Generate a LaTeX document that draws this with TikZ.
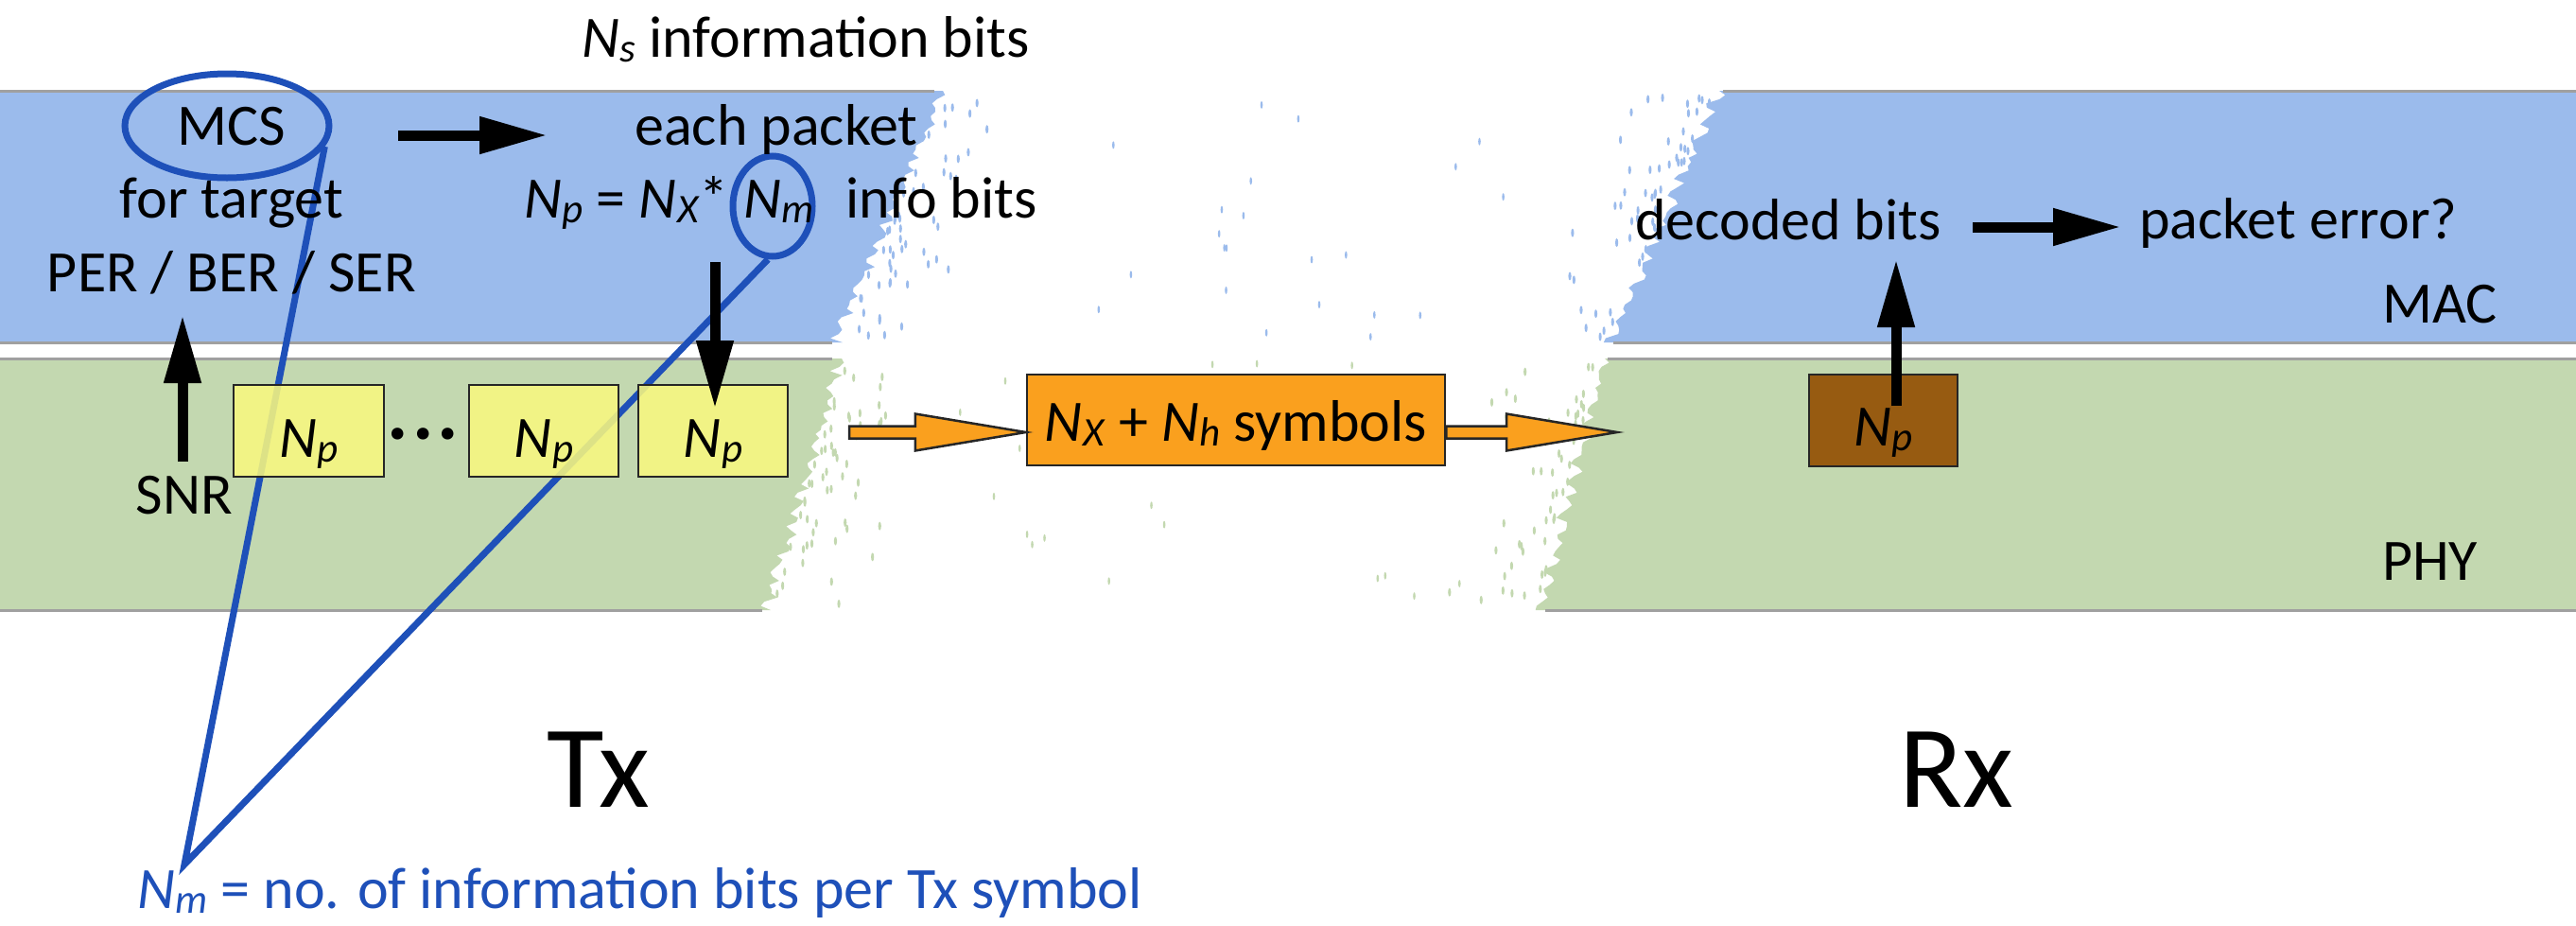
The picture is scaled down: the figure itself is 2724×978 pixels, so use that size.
\documentclass[tikz,border=0pt]{standalone}
\usepackage{fontspec}
\setmainfont{Carlito}
\usetikzlibrary{shapes.geometric,arrows.meta,calc}
\definecolor{macblue}{RGB}{155,187,236}
\definecolor{phygreen}{RGB}{195,216,176}
\definecolor{bandline}{RGB}{160,160,160}
\definecolor{yboxc}{RGB}{248,247,128}
\definecolor{oboxc}{RGB}{250,160,30}
\definecolor{bboxc}{RGB}{151,91,17}
\definecolor{hlblue}{RGB}{30,80,185}
\newcommand{\NN}[1]{\textit{N}\kern0.5pt\raisebox{-5pt}{\fontsize{43}{50}\selectfont\textit{#1}}}
\newcommand{\oblk}[2]{\draw[oarrow] let \p1=(#1), \p2=(#2) in
  (\x1,\y1+6.5pt) -- (\x2-117pt,\y1+6.5pt) -- (\x2-117pt,\y1+19.5pt) -- (\x2,\y1)
  -- (\x2-117pt,\y1-19.5pt) -- (\x2-117pt,\y1-6.5pt) -- (\x1,\y1-6.5pt) -- cycle;}
\begin{document}
\begin{tikzpicture}[x=1pt,y=-1pt,
  txt/.style={inner sep=0pt, font=\fontsize{62}{74}\selectfont},
  bigtxt/.style={inner sep=0pt, font=\fontsize{124}{148}\selectfont},
  ell/.style={draw=hlblue, line width=7pt, ellipse, inner sep=0pt},
  pbox/.style={draw=black!85, line width=2.5pt, minimum height=97pt, inner sep=0pt},
  blk/.style={line width=11pt, -{Triangle[length=72pt,width=37pt]}},
  oarrow/.style={draw=black!85, line width=2.5pt, fill=oboxc, line join=miter},
  bline/.style={draw=bandline, line width=3pt},
  speckb/.style={fill=macblue},
  speckg/.style={fill=phygreen}]
\fill[white] (0,0) rectangle (2724,978);
\useasboundingbox (0,0) rectangle (2724,978);
\pgfmathsetseed{11}
% ---- torn bands ----
\fill[macblue] (0,96) -- (997,96)
  \foreach \k in {1,...,60}{ -- ({997-114*\k/60+5*rand+4*sin(\k*97)},{96+266*\k/60}) } -- (0,362) -- cycle;
\fill[phygreen] (0,379) -- (890,379)
  \foreach \k in {1,...,60}{ -- ({890-80*\k/60+5*rand+4*sin(\k*97)},{379+266*\k/60}) } -- (0,645) -- cycle;
\fill[macblue] (2724,96) -- (1818,96)
  \foreach \k in {1,...,60}{ -- ({1818-115*\k/60+5*rand+4*sin(\k*83)},{96+266*\k/60}) } -- (2724,362) -- cycle;
\fill[phygreen] (2724,379) -- (1697,379)
  \foreach \k in {1,...,60}{ -- ({1697-67*\k/60+5*rand+4*sin(\k*83)},{379+266*\k/60}) } -- (2724,645) -- cycle;
\draw[bline] (0,96) -- (988,96);
\draw[bline] (0,362) -- (880,362);
\draw[bline] (0,379) -- (880,379);
\draw[bline] (0,645) -- (806,645);
\draw[bline] (1822,96) -- (2724,96);
\draw[bline] (1706,362) -- (2724,362);
\draw[bline] (1700,379) -- (2724,379);
\draw[bline] (1634,645) -- (2724,645);
% ---- specks ----
\foreach \i in {1,...,55}{
  \pgfmathsetmacro{\yy}{100+258*rnd}
  \pgfmathsetmacro{\xx}{997-(\yy-96)*0.43+5+110*rnd*rnd}
  \fill[speckb] (\xx,\yy) ellipse (1.6 and 4.5);
  \pgfmathsetmacro{\yy}{100+258*rnd}
  \pgfmathsetmacro{\xx}{1818-(\yy-96)*0.43-5-110*rnd*rnd}
  \fill[speckb] (\xx,\yy) ellipse (1.6 and 4.5);
  \pgfmathsetmacro{\yy}{383+258*rnd}
  \pgfmathsetmacro{\xx}{890-(\yy-379)*0.30+5+110*rnd*rnd}
  \fill[speckg] (\xx,\yy) ellipse (1.6 and 4.5);
  \pgfmathsetmacro{\yy}{383+258*rnd}
  \pgfmathsetmacro{\xx}{1697-(\yy-379)*0.25-5-110*rnd*rnd}
  \fill[speckg] (\xx,\yy) ellipse (1.6 and 4.5);
}
\foreach \i in {1,...,22}{
  \pgfmathsetmacro{\yy}{100+258*rnd}
  \pgfmathsetmacro{\xx}{1110+480*rnd}
  \fill[speckb] (\xx,\yy) ellipse (1.3 and 4);
  \pgfmathsetmacro{\yy}{383+258*rnd}
  \pgfmathsetmacro{\xx}{990+560*rnd}
  \fill[speckg] (\xx,\yy) ellipse (1.3 and 4);
}
% ---- highlight ellipses and pointer ----
\node[ell, minimum width=216pt, minimum height=110pt] (mcsEll) at (240,133) {};
\node[ell, minimum width=84pt, minimum height=106pt] (nmEll) at (817,218) {};
\coordinate (tip) at (195,914);
\draw[hlblue, line width=7pt, line join=miter] (mcsEll.-12) -- (tip) -- (nmEll.-95);
% ---- texts ----
\node[txt, anchor=base] (ns) at (852,60) {\NN{s} information bits};
\node[txt, anchor=base] (mcs) at (245,153) {MCS};
\node[txt, anchor=base] (fortarget) at (245,230) {for target};
\node[txt, anchor=base] (per) at (245,308) {PER / BER / SER};
\node[txt, anchor=base] (each) at (821,153) {each packet};
\node[txt, anchor=base west] (npA) at (554,230) {\NN{p} = \NN{X}*};
\node[txt, anchor=base west] (nmT) at ($(npA.base east)+(15,0)$) {\NN{m}};
\node[txt, anchor=base west] (info) at ($(nmT.base east)+(33,0)$) {info bits};
\node[txt, anchor=base] (snr) at (195,543) {SNR};
\node[txt, anchor=base] (decoded) at (1891,253) {decoded bits};
\node[txt, anchor=base west] (perr) at (2262,252) {packet error?};
\node[txt, anchor=base west] (mac) at (2519,341) {MAC};
\node[txt, anchor=base west] (phy) at (2519,613) {PHY};
\node[bigtxt, anchor=base] (tx) at (633,853) {Tx};
\node[bigtxt, anchor=base] (rx) at (2069,853) {Rx};
\node[txt, text=hlblue, anchor=base west] (legend) at (145,960) {\NN{m} = no. of information bits per Tx symbol};
% ---- packet boxes ----
\node[pbox, fill=yboxc, fill opacity=0.88, minimum width=159pt] (b1) at (326.5,455.5) {};
\node[pbox, fill=yboxc, fill opacity=0.88, minimum width=158pt] (b2) at (575,455.5) {};
\node[pbox, fill=yboxc, fill opacity=0.88, minimum width=158pt] (b3) at (754,455.5) {};
\node[txt, anchor=base] (b1t) at ($(b1.center)+(0,27.5)$) {\NN{p}};
\node[txt, anchor=base] (b2t) at ($(b2.center)+(0,27.5)$) {\NN{p}};
\node[txt, anchor=base] (b3t) at ($(b3.center)+(0,27.5)$) {\NN{p}};
\node[inner sep=0pt, font=\fontsize{84}{90}\selectfont\bfseries, anchor=base] (dots) at (447.5,464) {.\kern4pt.\kern4pt.};
\node[pbox, fill=oboxc, minimum width=442pt, minimum height=96pt] (ox) at (1307,444) {};
\node[txt, anchor=base] (oxt) at ($(ox.center)+(0,22)$) {\NN{X} + \NN{h} symbols};
\node[pbox, fill=bboxc, minimum width=157pt] (bx) at (1991.5,444.5) {};
\node[txt, anchor=base] (bxt) at ($(bx.center)+(0,27)$) {\NN{p}};
% ---- black arrows ----
\coordinate (snrUp) at (193,488);
\coordinate (perDn) at (193,333);
\draw[blk] (snrUp) -- (perDn);
\coordinate (mcsR) at (421,143);
\coordinate (eachL) at (579,143);
\draw[blk] (mcsR) -- (eachL);
\coordinate (nmDn) at (756,277);
\coordinate (b3In) at (756,432);
\draw[blk] (nmDn) -- (b3In);
\coordinate (bxUp) at (2005,429);
\coordinate (decDn) at (2005,274);
\draw[blk] (bxUp) -- (decDn);
\coordinate (decR) at (2086,240);
\coordinate (perrL) at (2243,240);
\draw[blk] (decR) -- (perrL);
% ---- orange block arrows ----
\coordinate (oa1s) at (898,457);
\coordinate (oa1e) at (ox.west |- oa1s);
\oblk{oa1s}{oa1e}
\coordinate (oa2s) at (ox.east |- oa1s);
\coordinate (oa2e) at (1710,457);
\oblk{oa2s}{oa2e}
\end{tikzpicture}
\end{document}
